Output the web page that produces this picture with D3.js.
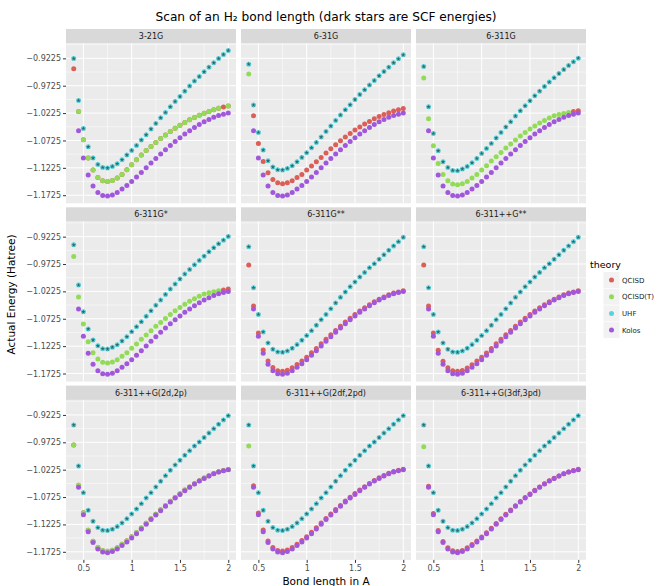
<!DOCTYPE html>
<html>
<head>
<meta charset="utf-8">
<title>Scan of an H2 bond length</title>
<style>
body { margin: 0; background: #ffffff; }
svg text { font-family: 'DejaVu Sans', sans-serif; }
</style>
</head>
<body>
<script src="https://d3js.org/d3.v7.min.js"></script>
<script>
'use strict';

// ---- data ----
const bondLength = [0.40, 0.45, 0.50, 0.55, 0.60, 0.65, 0.70, 0.75, 0.80, 0.85, 0.90,
	0.95, 1.00, 1.05, 1.10, 1.15, 1.20, 1.25, 1.30, 1.35, 1.40, 1.45, 1.50, 1.55, 1.60,
	1.65, 1.70, 1.75, 1.80, 1.85, 1.90, 1.95, 2.00];

const basisSets = ['3-21G', '6-31G', '6-311G', '6-311G*', '6-311G**', '6-311++G**',
	'6-311++G(2d,2p)', '6-311++G(2df,2pd)', '6-311++G(3df,3pd)'];

const theories = ['QCISD', 'QCISD(T)', 'UHF', 'Kolos'];

const xTicks = [0.5, 1, 1.5, 2];
const yTicks = [-1.1725, -1.1225, -1.0725, -1.0225, -0.9725, -0.9225];

// exact reference curve, same in every panel
const kolos = [null, -1.0548, -1.1046, -1.1357, -1.1557, -1.1674, -1.1729, -1.1740, -1.1721,
	-1.1674, -1.1612, -1.1546, -1.1473, -1.1393, -1.1309, -1.1223, -1.1137, -1.1053, -1.0973,
	-1.0895, -1.0816, -1.0743, -1.0676, -1.0608, -1.0548, -1.0488, -1.0433, -1.0384, -1.0342,
	-1.0300, -1.0268, -1.0245, -1.0225];

// SCF energies, one row per basis set
const uhf = [
	[-0.9229, -0.9995, -1.0506, -1.0840, -1.1046, -1.1163, -1.1218, -1.1229, -1.1199, -1.1150, -1.1077,
	 -1.0991, -1.0907, -1.0816, -1.0718, -1.0621, -1.0517, -1.0415, -1.0311, -1.0214, -1.0110, -1.0013,
	 -0.9922, -0.9824, -0.9732, -0.9641, -0.9557, -0.9471, -0.9386, -0.9307, -0.9229, -0.9156, -0.9083],
	[-0.9331, -1.0079, -1.0579, -1.0900, -1.1096, -1.1210, -1.1260, -1.1265, -1.1236, -1.1187, -1.1114,
	 -1.1035, -1.0949, -1.0858, -1.0761, -1.0663, -1.0561, -1.0462, -1.0360, -1.0262, -1.0165, -1.0074,
	 -0.9977, -0.9886, -0.9800, -0.9714, -0.9630, -0.9544, -0.9466, -0.9386, -0.9307, -0.9234, -0.9161],
	[-0.9375, -1.0110, -1.0597, -1.0913, -1.1114, -1.1218, -1.1272, -1.1278, -1.1247, -1.1199, -1.1132,
	 -1.1053, -1.0962, -1.0871, -1.0780, -1.0681, -1.0579, -1.0480, -1.0384, -1.0280, -1.0183, -1.0092,
	 -1.0000, -0.9909, -0.9824, -0.9740, -0.9659, -0.9581, -0.9502, -0.9429, -0.9356, -0.9289, -0.9221],
	[-0.9375, -1.0110, -1.0597, -1.0913, -1.1114, -1.1218, -1.1272, -1.1278, -1.1247, -1.1199, -1.1132,
	 -1.1053, -1.0962, -1.0871, -1.0780, -1.0681, -1.0579, -1.0480, -1.0384, -1.0280, -1.0183, -1.0092,
	 -1.0000, -0.9909, -0.9824, -0.9740, -0.9659, -0.9581, -0.9502, -0.9429, -0.9356, -0.9289, -0.9221],
	[-0.9409, -1.0158, -1.0645, -1.0966, -1.1167, -1.1283, -1.1331, -1.1337, -1.1313, -1.1265, -1.1197,
	 -1.1119, -1.1033, -1.0942, -1.0845, -1.0741, -1.0645, -1.0541, -1.0437, -1.0334, -1.0236, -1.0139,
	 -1.0053, -0.9962, -0.9878, -0.9793, -0.9720, -0.9638, -0.9557, -0.9475, -0.9395, -0.9316, -0.9238],
	[-0.9409, -1.0158, -1.0645, -1.0966, -1.1167, -1.1283, -1.1331, -1.1337, -1.1313, -1.1265, -1.1197,
	 -1.1119, -1.1033, -1.0942, -1.0845, -1.0741, -1.0645, -1.0541, -1.0437, -1.0334, -1.0236, -1.0139,
	 -1.0053, -0.9962, -0.9878, -0.9793, -0.9720, -0.9638, -0.9557, -0.9475, -0.9395, -0.9316, -0.9238],
	[-0.9409, -1.0158, -1.0645, -1.0966, -1.1167, -1.1283, -1.1331, -1.1337, -1.1313, -1.1265, -1.1197,
	 -1.1119, -1.1033, -1.0942, -1.0845, -1.0741, -1.0645, -1.0541, -1.0437, -1.0334, -1.0236, -1.0139,
	 -1.0053, -0.9962, -0.9878, -0.9793, -0.9720, -0.9638, -0.9557, -0.9475, -0.9395, -0.9316, -0.9238],
	[-0.9409, -1.0158, -1.0645, -1.0966, -1.1167, -1.1283, -1.1331, -1.1337, -1.1313, -1.1265, -1.1197,
	 -1.1119, -1.1033, -1.0942, -1.0845, -1.0741, -1.0645, -1.0541, -1.0437, -1.0334, -1.0236, -1.0139,
	 -1.0053, -0.9962, -0.9878, -0.9793, -0.9720, -0.9638, -0.9557, -0.9475, -0.9395, -0.9316, -0.9238],
	[-0.9409, -1.0158, -1.0645, -1.0966, -1.1167, -1.1283, -1.1331, -1.1337, -1.1313, -1.1265, -1.1197,
	 -1.1119, -1.1033, -1.0942, -1.0845, -1.0741, -1.0645, -1.0541, -1.0437, -1.0334, -1.0236, -1.0139,
	 -1.0053, -0.9962, -0.9878, -0.9793, -0.9720, -0.9638, -0.9557, -0.9475, -0.9395, -0.9316, -0.9238]
];

const qcisd = [
	[-0.9417, -1.0196, -1.0712, -1.1046, -1.1265, -1.1400, -1.1460, -1.1473, -1.1455, -1.1411, -1.1345,
	 -1.1262, -1.1170, -1.1078, -1.0991, -1.0910, -1.0834, -1.0761, -1.0690, -1.0624, -1.0560, -1.0500,
	 -1.0445, -1.0395, -1.0348, -1.0304, -1.0264, -1.0228, -1.0194, -1.0164, -1.0137, -1.0114, -1.0095],
	[null, -1.0274, -1.0780, -1.1108, -1.1314, -1.1437, -1.1497, -1.1515, -1.1497, -1.1460, -1.1400,
	 -1.1345, -1.1265, -1.1192, -1.1114, -1.1035, -1.0955, -1.0877, -1.0803, -1.0730, -1.0663, -1.0597,
	 -1.0535, -1.0480, -1.0426, -1.0378, -1.0329, -1.0287, -1.0250, -1.0220, -1.0189, -1.0165, -1.0141],
	[null, null, null, null, null, null, null, null, null, null, null,
	 null, null, null, null, null, null, null, null, null, null, null,
	 null, null, null, null, null, null, null, null, null, -1.0198, -1.0182],
	[null, null, null, null, null, null, null, null, null, null, null,
	 null, null, null, null, null, null, null, null, null, null, null,
	 null, null, null, null, null, null, null, null, null, -1.0198, -1.0182],
	[-0.9742, -1.0490, -1.0985, -1.1297, -1.1498, -1.1617, -1.1673, -1.1685, -1.1667, -1.1622, -1.1562,
	 -1.1497, -1.1426, -1.1348, -1.1266, -1.1182, -1.1098, -1.1016, -1.0938, -1.0862, -1.0785, -1.0714,
	 -1.0649, -1.0583, -1.0525, -1.0467, -1.0414, -1.0367, -1.0326, -1.0286, -1.0256, -1.0234, -1.0215],
	[-0.9745, -1.0492, -1.0987, -1.1298, -1.1499, -1.1618, -1.1674, -1.1686, -1.1668, -1.1623, -1.1563,
	 -1.1498, -1.1427, -1.1349, -1.1267, -1.1183, -1.1099, -1.1017, -1.0939, -1.0862, -1.0785, -1.0714,
	 -1.0649, -1.0583, -1.0525, -1.0467, -1.0414, -1.0367, -1.0326, -1.0286, -1.0256, -1.0234, -1.0215],
	[-0.9774, -1.0510, -1.1010, -1.1331, -1.1532, -1.1648, -1.1702, -1.1714, -1.1696, -1.1650, -1.1589,
	 -1.1524, -1.1452, -1.1373, -1.1290, -1.1205, -1.1120, -1.1037, -1.0958, -1.0881, -1.0803, -1.0731,
	 -1.0665, -1.0598, -1.0539, -1.0480, -1.0426, -1.0378, -1.0337, -1.0296, -1.0264, -1.0242, -1.0222],
	[null, -1.0517, -1.1015, -1.1327, -1.1527, -1.1645, -1.1700, -1.1711, -1.1693, -1.1646, -1.1585,
	 -1.1520, -1.1448, -1.1369, -1.1286, -1.1201, -1.1116, -1.1033, -1.0954, -1.0877, -1.0799, -1.0727,
	 -1.0661, -1.0594, -1.0535, -1.0476, -1.0422, -1.0374, -1.0333, -1.0291, -1.0260, -1.0237, -1.0216],
	[null, -1.0526, -1.1024, -1.1335, -1.1535, -1.1652, -1.1707, -1.1719, -1.1700, -1.1653, -1.1592,
	 -1.1527, -1.1455, -1.1376, -1.1293, -1.1208, -1.1123, -1.1040, -1.0961, -1.0884, -1.0806, -1.0734,
	 -1.0668, -1.0601, -1.0542, -1.0483, -1.0429, -1.0380, -1.0339, -1.0297, -1.0265, -1.0242, -1.0218]
];

const qcisdT = [
	[null, -1.0196, -1.0712, -1.1046, -1.1265, -1.1400, -1.1460, -1.1473, -1.1455, -1.1411, -1.1345,
	 -1.1262, -1.1170, -1.1078, -1.0991, -1.0910, -1.0834, -1.0761, -1.0690, -1.0624, -1.0560, -1.0500,
	 -1.0445, -1.0395, -1.0348, -1.0304, -1.0264, -1.0228, -1.0194, -1.0164, -1.0137, null, -1.0095],
	[-0.9513, null, null, null, null, null, null, null, null, null, null,
	 null, null, null, null, null, null, null, null, null, null, null,
	 null, null, null, null, null, null, null, null, null, null, null],
	[-0.9586, -1.0329, -1.0822, -1.1145, -1.1345, -1.1460, -1.1521, -1.1533, -1.1515, -1.1473, -1.1411,
	 -1.1345, -1.1265, -1.1187, -1.1101, -1.1022, -1.0944, -1.0864, -1.0791, -1.0718, -1.0645, -1.0579,
	 -1.0517, -1.0462, -1.0407, -1.0360, -1.0316, -1.0274, -1.0252, -1.0233, -1.0215, null, null],
	[-0.9586, -1.0329, -1.0822, -1.1145, -1.1345, -1.1460, -1.1521, -1.1533, -1.1515, -1.1473, -1.1411,
	 -1.1345, -1.1265, -1.1187, -1.1101, -1.1022, -1.0944, -1.0864, -1.0791, -1.0718, -1.0645, -1.0579,
	 -1.0517, -1.0462, -1.0407, -1.0360, -1.0316, -1.0274, -1.0252, -1.0233, -1.0215, null, null],
	[null, null, null, null, null, null, null, null, null, null, null,
	 null, null, null, null, null, null, null, null, null, null, null,
	 null, null, null, null, null, null, null, null, null, null, null],
	[null, null, null, null, null, null, null, null, null, null, null,
	 null, null, null, null, null, null, null, null, null, null, null,
	 null, null, null, null, null, null, null, null, null, null, null],
	[-0.9774, -1.0510, -1.1010, -1.1331, -1.1532, -1.1648, -1.1702, -1.1714, -1.1696, -1.1650, -1.1589,
	 -1.1524, -1.1452, -1.1373, -1.1290, -1.1205, -1.1120, -1.1037, -1.0958, -1.0881, -1.0803, -1.0731,
	 -1.0665, -1.0598, -1.0539, -1.0480, -1.0426, -1.0378, -1.0337, -1.0296, -1.0264, -1.0242, -1.0222],
	[-0.9790, null, null, null, null, null, null, null, null, null, null,
	 null, null, null, null, null, null, null, null, null, null, null,
	 null, null, null, null, null, null, null, null, null, null, null],
	[-0.9805, null, null, null, null, null, null, null, null, null, null,
	 null, null, null, null, null, null, null, null, null, null, null,
	 null, null, null, null, null, null, null, null, null, null, null]
];

// ---- layout ----
const width = 658;
const height = 586;
const pw = 170, ph = 160, stripH = 14.3;
const marginLeft = 66, marginTop = 29, hgap = 5, vgap = 4;

const colour = {
	'QCISD': '#db5f57',
	'QCISD(T)': '#91db57',
	'UHF': '#57d3db',
	'Kolos': '#a157db'
};

function expand(ext) {
	const pad = (ext[1] - ext[0]) * 0.05;
	return [ext[0] - pad, ext[1] + pad];
}

const allEnergies = [kolos].concat(uhf, qcisd, qcisdT).flat().filter(function(v) { return v != null; });

const x = d3.scaleLinear()
	.domain(expand(d3.extent(bondLength)))
	.range([0, pw]);

const y = d3.scaleLinear()
	.domain(expand(d3.extent(allEnergies)))
	.range([ph, 0]);

// minor breaks sit half way between the major ones
function minors(ticks, domain) {
	const step = ticks[1] - ticks[0];
	const out = [];
	for (let i = -1; i < ticks.length; i++) {
		const v = ticks[0] + (i + 0.5) * step;
		if (v > domain[0] && v < domain[1]) out.push(v);
	}
	return out;
}
const xMinor = minors(xTicks, x.domain());
const yMinor = minors(yTicks, y.domain());

const svg = d3.select('body').append('svg')
	.attr('width', width)
	.attr('height', height);

svg.append('rect').attr('width', width).attr('height', height).attr('fill', '#ffffff');

const centreX = marginLeft + (3 * pw + 2 * hgap) / 2;

// title
svg.append('text')
	.attr('x', centreX)
	.attr('y', 21)
	.attr('text-anchor', 'middle')
	.attr('font-size', '12.2px')
	.attr('fill', '#000')
	.text('Scan of an H\u2082 bond length (dark stars are SCF energies)');

function seriesFor(theory, i) {
	if (theory === 'QCISD') return qcisd[i];
	if (theory === 'QCISD(T)') return qcisdT[i];
	if (theory === 'UHF') return uhf[i];
	return kolos;
}

const star = d3.symbol().type(d3.symbolStar).size(6);

basisSets.forEach(function(basis, i) {
	const col = i % 3;
	const row = Math.floor(i / 3);
	const g = svg.append('g')
		.attr('transform', 'translate(' + (marginLeft + col * (pw + hgap)) + ',' + (marginTop + row * (stripH + ph + vgap)) + ')');

	// strip
	g.append('rect').attr('width', pw).attr('height', stripH).attr('fill', '#d9d9d9');
	g.append('text')
		.attr('x', pw / 2).attr('y', stripH / 2 + 3)
		.attr('text-anchor', 'middle')
		.attr('font-size', '8px')
		.attr('fill', '#1a1a1a')
		.text(basis);

	const p = g.append('g').attr('transform', 'translate(0,' + stripH + ')');
	p.append('rect').attr('width', pw).attr('height', ph).attr('fill', '#ebebeb');

	// grid
	p.selectAll(null).data(xMinor).enter().append('line')
		.attr('x1', x).attr('x2', x).attr('y1', 0).attr('y2', ph)
		.attr('stroke', '#fff').attr('stroke-width', 0.5);
	p.selectAll(null).data(yMinor).enter().append('line')
		.attr('y1', y).attr('y2', y).attr('x1', 0).attr('x2', pw)
		.attr('stroke', '#fff').attr('stroke-width', 0.5);
	p.selectAll(null).data(xTicks).enter().append('line')
		.attr('x1', x).attr('x2', x).attr('y1', 0).attr('y2', ph)
		.attr('stroke', '#fff').attr('stroke-width', 1);
	p.selectAll(null).data(yTicks).enter().append('line')
		.attr('y1', y).attr('y2', y).attr('x1', 0).attr('x2', pw)
		.attr('stroke', '#fff').attr('stroke-width', 1);

	// points
	theories.forEach(function(theory) {
		const values = seriesFor(theory, i);
		const pts = bondLength.map(function(b, j) { return {x: b, e: values[j]}; })
			.filter(function(d) { return d.e != null; });
		p.selectAll(null).data(pts).enter().append('circle')
			.attr('cx', function(d) { return x(d.x); })
			.attr('cy', function(d) { return y(d.e); })
			.attr('r', 2.5)
			.attr('fill', colour[theory]);
		if (theory === 'UHF') {
			p.selectAll(null).data(pts).enter().append('path')
				.attr('d', star)
				.attr('transform', function(d) { return 'translate(' + x(d.x) + ',' + y(d.e) + ')'; })
				.attr('fill', '#1a1a1a')
				.attr('opacity', 0.6);
		}
	});

	// axes
	if (col === 0) {
		const ay = p.append('g')
			.call(d3.axisLeft(y).tickValues(yTicks).tickSize(3).tickPadding(2).tickFormat(d3.format('.4f')));
		ay.select('.domain').remove();
		ay.selectAll('line').attr('stroke', '#333333');
		ay.selectAll('text').attr('fill', '#4d4d4d').attr('font-size', '8px').attr('font-family', 'DejaVu Sans');
	}
	if (row === 2) {
		const ax = p.append('g')
			.attr('transform', 'translate(0,' + ph + ')')
			.call(d3.axisBottom(x).tickValues(xTicks).tickSize(3).tickPadding(2).tickFormat(d3.format('')));
		ax.select('.domain').remove();
		ax.selectAll('line').attr('stroke', '#333333');
		ax.selectAll('text').attr('fill', '#4d4d4d').attr('font-size', '8px').attr('font-family', 'DejaVu Sans');
	}
});

// axis titles
svg.append('text')
	.attr('x', centreX)
	.attr('y', 584.5)
	.attr('text-anchor', 'middle')
	.attr('font-size', '10.5px')
	.text('Bond length in A');

svg.append('text')
	.attr('transform', 'translate(15,' + (marginTop + (3 * (stripH + ph) + 2 * vgap) / 2) + ') rotate(-90)')
	.attr('text-anchor', 'middle')
	.attr('font-size', '10.5px')
	.text('Actual Energy (Hatree)');

// legend
const legend = svg.append('g').attr('transform', 'translate(590,260)');
legend.append('text').attr('x', 0).attr('y', 8).attr('font-size', '9.5px').text('theory');
theories.forEach(function(theory, k) {
	const ky = 12 + k * 16.7;
	legend.append('rect')
		.attr('x', 13.5).attr('y', ky).attr('width', 16).attr('height', 16)
		.attr('fill', '#f2f2f2');
	legend.append('circle')
		.attr('cx', 21.5).attr('cy', ky + 8).attr('r', 2.5)
		.attr('fill', colour[theory]);
	legend.append('text')
		.attr('x', 32).attr('y', ky + 10.5)
		.attr('font-size', '7px').attr('fill', '#1a1a1a')
		.text(theory);
});
</script>
</body>
</html>
